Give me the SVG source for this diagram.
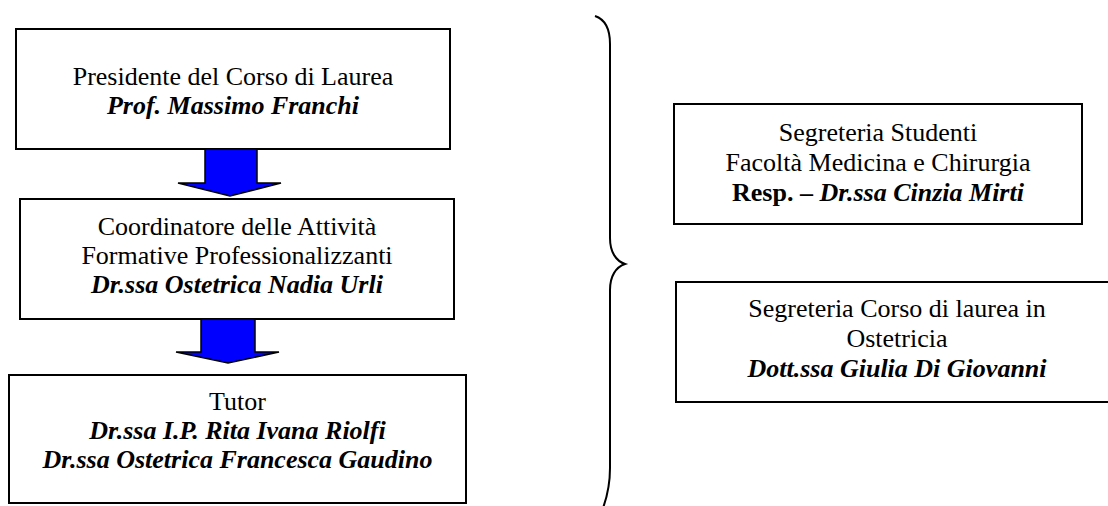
<svg xmlns="http://www.w3.org/2000/svg" width="1108" height="506" viewBox="0 0 1108 506">
<style>
.box{fill:#fff;stroke:#000;stroke-width:2}
.t{font-family:"Liberation Serif","Times New Roman",serif;font-size:26px;fill:#000;text-anchor:middle}
.bi{font-weight:bold;font-style:italic}
.b{font-weight:bold}
.arr{fill:#0000FF;stroke:#000;stroke-width:1.5;stroke-linejoin:miter}
.brace{fill:none;stroke:#000;stroke-width:2}
</style>
<rect width="1108" height="506" fill="#fff"/>
<g id="connectors">
<path class="arr" d="M205,149 L257,149 L257,183 L281,183 L230,196 L178,183 L205,183 Z"/>
<path class="arr" d="M201,319 L255,319 L255,352 L279,352 L228,363 L176,352 L201,352 Z"/>
</g>
<g id="presidente">
<rect class="box" x="16" y="29" width="434" height="120"/>
<text class="t" x="233" y="85">Presidente del Corso di Laurea</text>
<text class="t bi" x="233" y="114">Prof. Massimo Franchi</text>
</g>
<g id="coordinatore">
<rect class="box" x="20" y="199" width="434" height="120"/>
<text class="t" x="237" y="235">Coordinatore delle Attività</text>
<text class="t" x="237" y="264">Formative Professionalizzanti</text>
<text class="t bi" x="237" y="293">Dr.ssa Ostetrica Nadia Urli</text>
</g>
<g id="tutor">
<rect class="box" x="9" y="375" width="457" height="128"/>
<text class="t" x="237.5" y="410">Tutor</text>
<text class="t bi" x="237.5" y="439">Dr.ssa I.P. Rita Ivana Riolfi</text>
<text class="t bi" x="237.5" y="468">Dr.ssa Ostetrica Francesca Gaudino</text>
</g>
<g id="brace">
<path class="brace" d="M595,16 C604,19 610,27 610,44 L610,238 C610,252 616,261 625,264 C616,267 610,276 610,290 L610,468 C610,486 607,497 603,508"/>
</g>
<g id="segreteria-studenti">
<rect class="box" x="674" y="104" width="408" height="120"/>
<text class="t" x="878" y="141">Segreteria Studenti</text>
<text class="t" x="878" y="171">Facoltà Medicina e Chirurgia</text>
<text class="t" x="878" y="201"><tspan class="b">Resp. – </tspan><tspan class="bi">Dr.ssa Cinzia Mirti</tspan></text>
</g>
<g id="segreteria-corso">
<rect class="box" x="676" y="282" width="442" height="120"/>
<text class="t" x="897" y="317">Segreteria Corso di laurea in</text>
<text class="t" x="897" y="347">Ostetricia</text>
<text class="t bi" x="897" y="377">Dott.ssa Giulia Di Giovanni</text>
</g>
</svg>
